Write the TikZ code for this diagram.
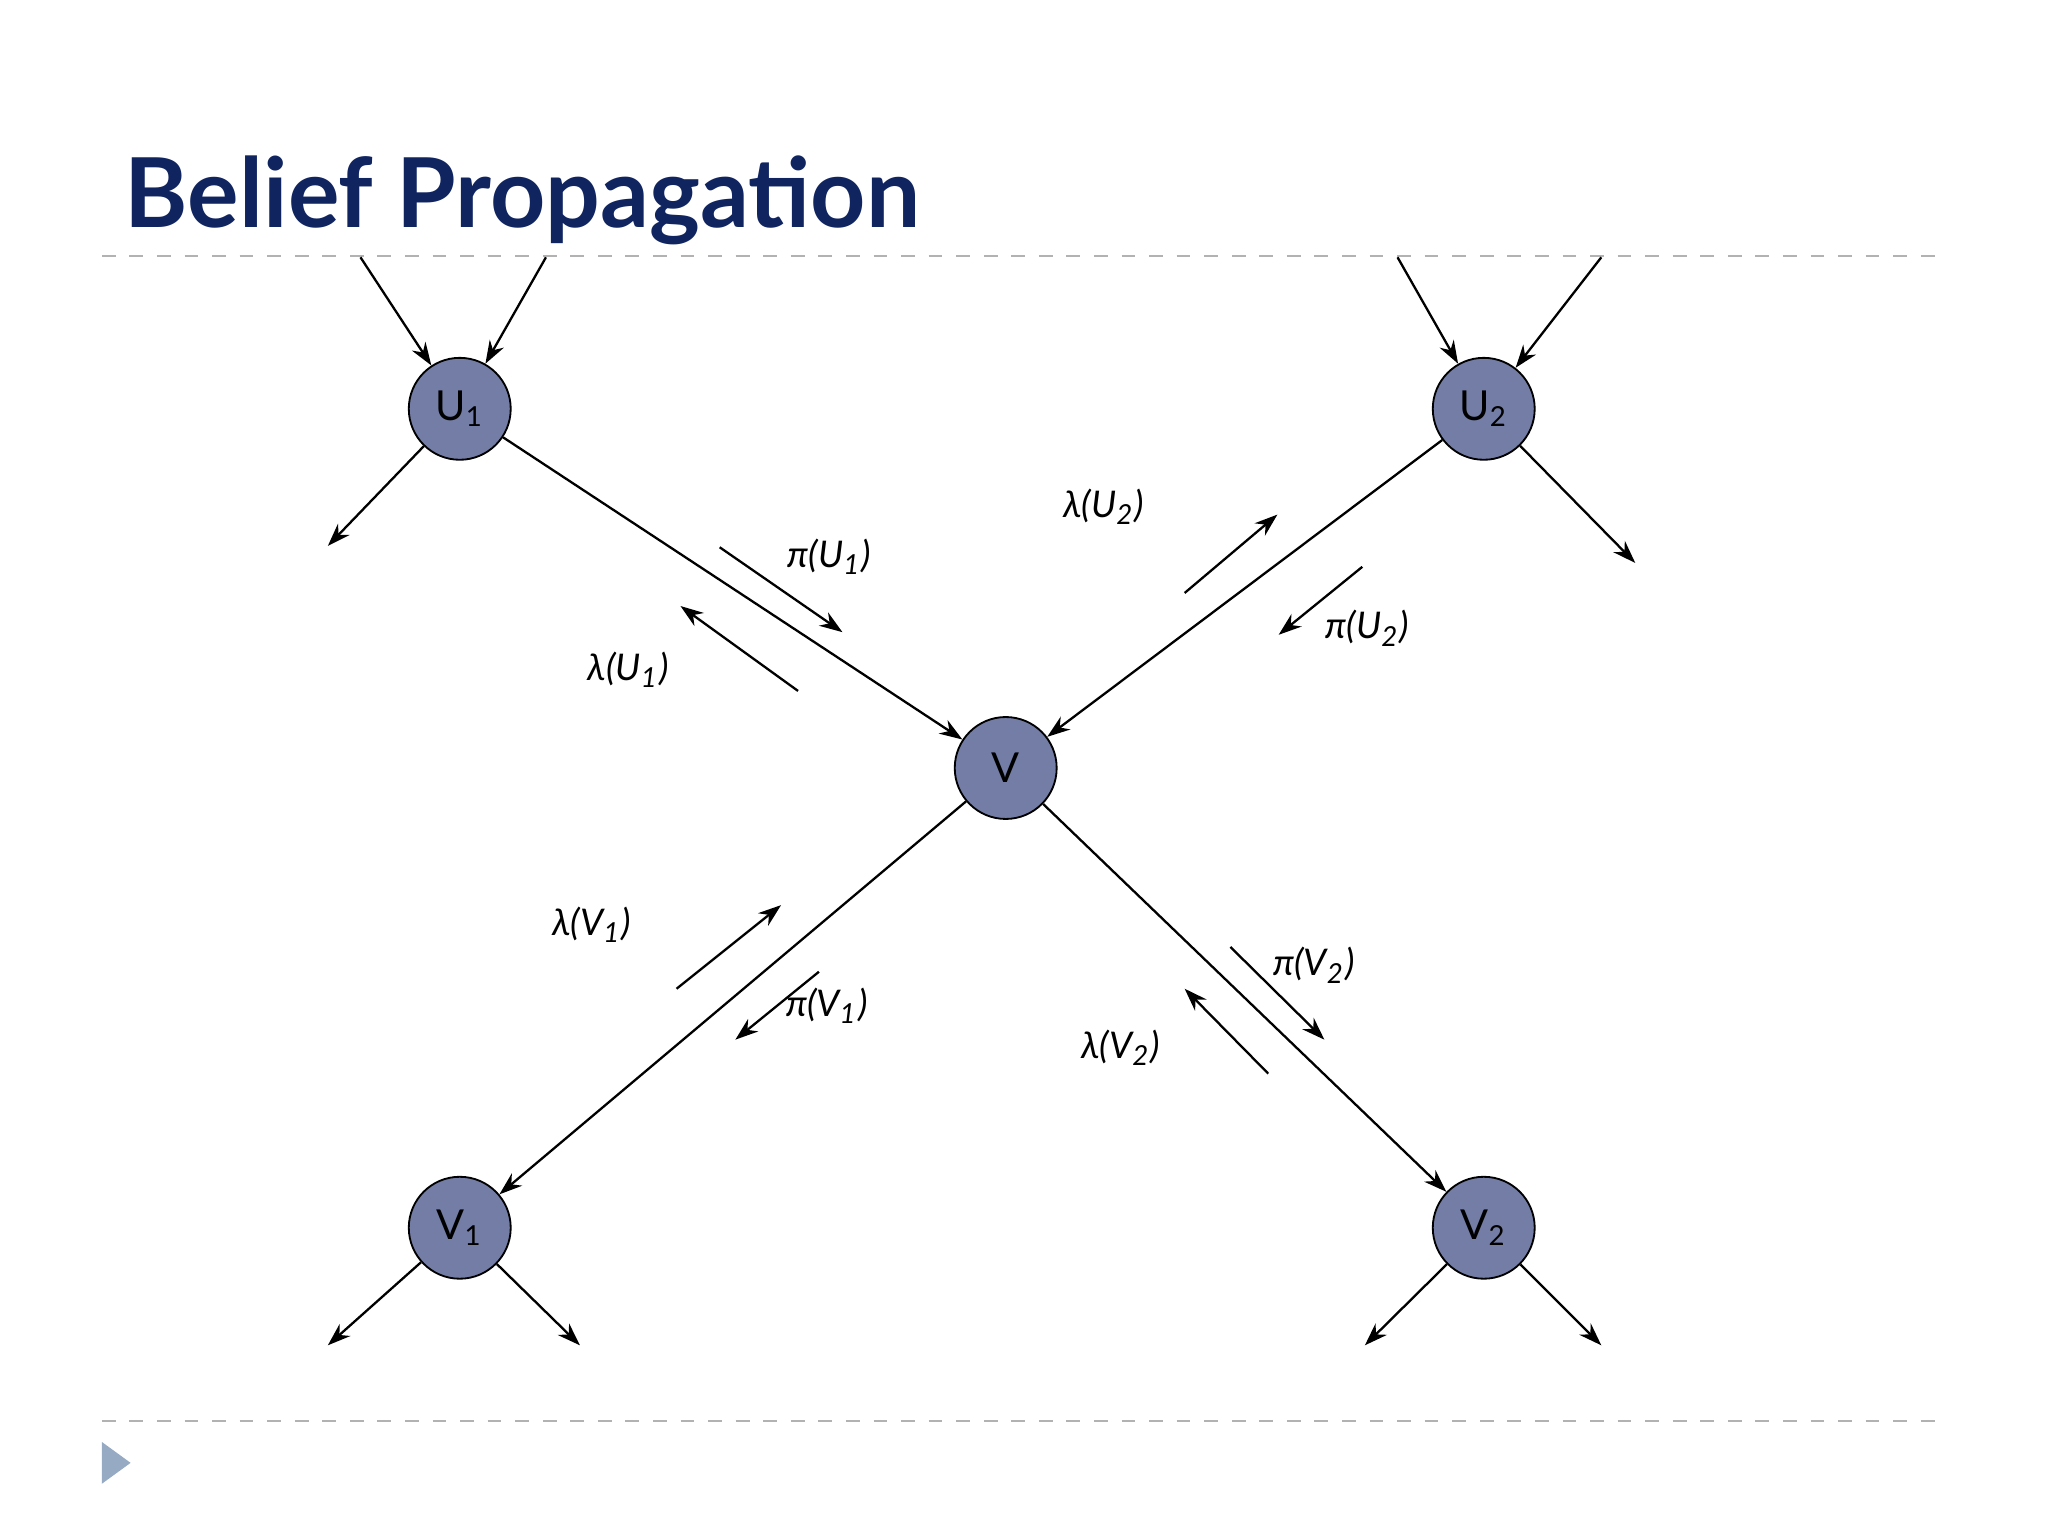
\documentclass[tikz,border=0pt]{standalone}
\usepackage{fontspec}
\setmainfont{Lato}
\usetikzlibrary{arrows.meta}
\definecolor{navy}{RGB}{16,36,96}
\definecolor{nodefill}{RGB}{115,125,165}
\definecolor{tri}{RGB}{150,170,195}
\begin{document}
\begin{tikzpicture}[x=0.01cm,y=-0.01cm,
  bn/.style={circle,draw=black,fill=nodefill,minimum size=0.78cm,inner sep=0pt,font=\fontsize{9}{10}\selectfont},
  ed/.style={-{Stealth[length=5pt,width=3.5pt]},line width=0.5pt},
  lab/.style={font=\fontsize{8}{9}\selectfont\itshape},
  sep/.style={gray!60,dashed,line width=0.5pt}]
\useasboundingbox (0,0) rectangle (1568,1176);
\node[anchor=base west,font=\fontsize{21}{24}\selectfont\bfseries,text=navy,inner sep=0pt] (title) at (95,174) {Belief Propagation};
\draw[sep] (78,196) -- (1490,196);
\draw[sep] (78,1088) -- (1490,1088);
\fill[tri] (78,1104) -- (78,1136) -- (100,1120) -- cycle;

\node[bn] (U1) at (352,313) {U\textsubscript{1}};
\node[bn] (U2) at (1136,313) {U\textsubscript{2}};
\node[bn] (V) at (770,588) {V};
\node[bn] (V1) at (352,940) {V\textsubscript{1}};
\node[bn] (V2) at (1136,940) {V\textsubscript{2}};

\draw[ed] (U1) -- (V);
\draw[ed] (U2) -- (V);
\draw[ed] (V) -- (V1);
\draw[ed] (V) -- (V2);

\coordinate (a1) at (276,197); \coordinate (a2) at (418,197);
\draw[ed] (a1) -- (U1); \draw[ed] (a2) -- (U1);
\coordinate (a3) at (251,418); \draw[ed] (U1) -- (a3);
\coordinate (b1) at (1070,197); \coordinate (b2) at (1226,197);
\draw[ed] (b1) -- (U2); \draw[ed] (b2) -- (U2);
\coordinate (b3) at (1252,431); \draw[ed] (U2) -- (b3);
\coordinate (c1) at (251,1030); \coordinate (c2) at (444,1030);
\draw[ed] (V1) -- (c1); \draw[ed] (V1) -- (c2);
\coordinate (d1) at (1045,1030); \coordinate (d2) at (1226,1030);
\draw[ed] (V2) -- (d1); \draw[ed] (V2) -- (d2);

\coordinate (m1s) at (551,419); \coordinate (m1e) at (645,484); \draw[ed] (m1s) -- (m1e);
\coordinate (m2s) at (611,529); \coordinate (m2e) at (521,464); \draw[ed] (m2s) -- (m2e);
\coordinate (m3s) at (907,454); \coordinate (m3e) at (978,394); \draw[ed] (m3s) -- (m3e);
\coordinate (m4s) at (1043,434); \coordinate (m4e) at (979,486); \draw[ed] (m4s) -- (m4e);
\coordinate (m5s) at (518,757); \coordinate (m5e) at (598,693); \draw[ed] (m5s) -- (m5e);
\coordinate (m6s) at (627,744); \coordinate (m6e) at (563,796); \draw[ed] (m6s) -- (m6e);
\coordinate (m7s) at (942,725); \coordinate (m7e) at (1014,796); \draw[ed] (m7s) -- (m7e);
\coordinate (m8s) at (971,822); \coordinate (m8e) at (907,757); \draw[ed] (m8s) -- (m8e);

\node[lab] (l1) at (635,426) {π(U\textsubscript{1})};
\node[lab] (l2) at (481,513) {λ(U\textsubscript{1})};
\node[lab] (l3) at (845,388) {λ(U\textsubscript{2})};
\node[lab] (l4) at (1047,481) {π(U\textsubscript{2})};
\node[lab] (l5) at (453,708) {λ(V\textsubscript{1})};
\node[lab] (l6) at (633,770) {π(V\textsubscript{1})};
\node[lab] (l7) at (1006,739) {π(V\textsubscript{2})};
\node[lab] (l8) at (858,802) {λ(V\textsubscript{2})};
\end{tikzpicture}
\end{document}
